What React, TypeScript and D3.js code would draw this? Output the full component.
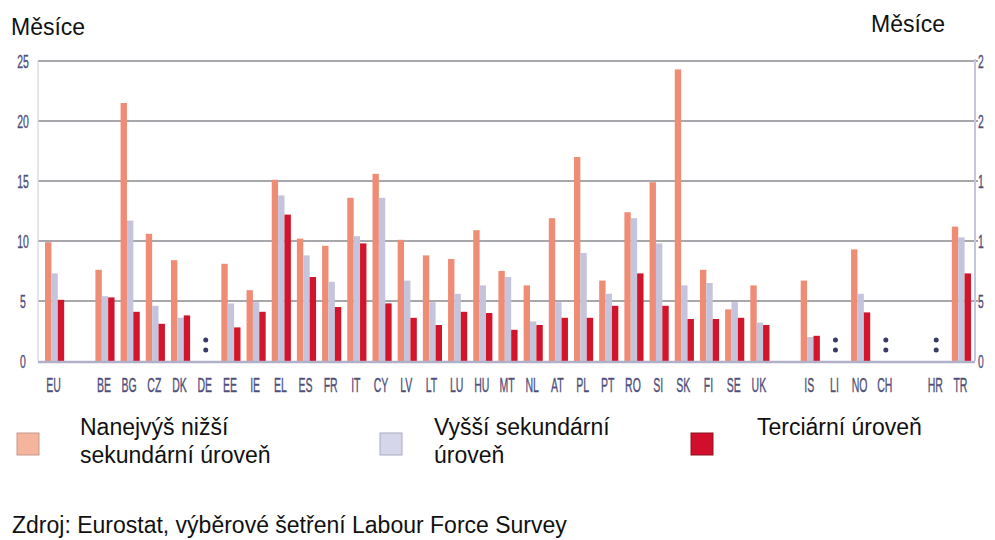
import * as d3 from "d3";
import { useEffect, useRef } from "react";

// slots along the x axis, "" = empty gap between country groups
const categories = ["EU", "", "BE", "BG", "CZ", "DK", "DE", "EE", "IE", "EL", "ES", "FR", "IT", "CY", "LV", "LT", "LU", "HU", "MT", "NL", "AT", "PL", "PT", "RO", "SI", "SK", "FI", "SE", "UK", "", "IS", "LI", "NO", "CH", "", "HR", "TR"];

const lowerSecondary = [9.9, null, 7.6, 21.5, 10.6, 8.4, null, 8.1, 5.9, 15.1, 10.2, 9.6, 13.6, 15.6, 10.1, 8.8, 8.5, 10.9, 7.5, 6.3, 11.9, 17.0, 6.7, 12.4, 14.9, 24.3, 7.6, 4.3, 6.3, null, 6.7, null, 9.3, null, null, null, 11.2];
const upperSecondary = [7.3, null, 5.4, 11.7, 4.6, 3.6, null, 4.8, 4.9, 13.8, 8.8, 6.6, 10.4, 13.6, 6.7, 4.9, 5.6, 6.3, 7.0, 3.3, 4.9, 9.0, 5.6, 11.9, 9.8, 6.3, 6.5, 4.9, 3.2, null, 2.0, null, 5.6, null, null, null, 10.3];
const tertiary = [5.1, null, 5.3, 4.1, 3.1, 3.8, null, 2.8, 4.1, 12.2, 7.0, 4.5, 9.8, 4.8, 3.6, 3.0, 4.1, 4.0, 2.6, 3.0, 3.6, 3.6, 4.6, 7.3, 4.6, 3.5, 3.5, 3.6, 3.0, null, 2.1, null, 4.05, null, null, null, 7.3];

const yTicks = [0, 5, 10, 15, 20, 25];

const seriesNames = [["Nanejvýš nižší", "sekundární úroveň"], ["Vyšší sekundární", "úroveň"], ["Terciární úroveň"]];
const barColors = ["#ef8c76", "#c4c4dc", "#d2152b"];
const legendColors = ["#f5b49c", "#d6d6ea", "#d10f2d"];
const legendStrokes = ["#c69a8e", "#a9a9c2", "#8c1424"];

const App = () => {
    const svgRef = useRef(null);

    useEffect(() => {
        document.body.style.margin = "0";
        const svg = d3.select(svgRef.current);
        const width = 995;
        const height = 540;
        svg.selectAll("*").remove();

        const left = 38, right = 975, top = 61, bottom = 361;
        const labelColor = "#50507a";
        const font = "Liberation Sans, Arial, sans-serif";

        const x = d3.scaleBand()
            .domain(categories.map((_, i) => String(i)))
            .range([42, 974])
            .paddingInner(0.24)
            .paddingOuter(0.12);

        const xs = d3.scaleBand()
            .domain(["0", "1", "2"])
            .range([0, x.bandwidth()]);

        const y = d3.scaleLinear().domain([0, 25]).range([bottom, top]);

        svg.append("rect").attr("width", width).attr("height", height).attr("fill", "#fff");

        // grid
        svg.append("g")
            .selectAll("line")
            .data(yTicks.filter(t => t > 0))
            .join("line")
            .attr("x1", left)
            .attr("x2", right + 3)
            .attr("y1", d => y(d))
            .attr("y2", d => y(d))
            .attr("stroke", "#8a8a90")
            .attr("stroke-width", 1.7);

        svg.append("line")
            .attr("x1", left).attr("x2", left)
            .attr("y1", top).attr("y2", bottom)
            .attr("stroke", "#d4d4e0").attr("stroke-width", 1.2);
        svg.append("line")
            .attr("x1", right).attr("x2", right)
            .attr("y1", top - 2).attr("y2", bottom)
            .attr("stroke", "#c6c6dc").attr("stroke-width", 2);

        // bars
        const series = [lowerSecondary, upperSecondary, tertiary];
        series.forEach((values, s) => {
            svg.append("g")
                .selectAll("rect")
                .data(values.map((v, i) => ({ v, i })).filter(d => d.v != null))
                .join("rect")
                .attr("x", d => x(String(d.i)) + xs(String(s)))
                .attr("width", xs.bandwidth())
                .attr("y", d => y(d.v))
                .attr("height", d => y(0) - y(d.v))
                .attr("fill", barColors[s]);
        });

        // baseline
        svg.append("line")
            .attr("x1", left).attr("x2", right)
            .attr("y1", bottom + 1).attr("y2", bottom + 1)
            .attr("stroke", "#b0b0c8").attr("stroke-width", 2.5);

        // missing data markers ":"
        const missing = categories.map((c, i) => ({ c, i })).filter(d => d.c !== "" && lowerSecondary[d.i] == null);
        const mg = svg.append("g").attr("fill", "#3a3a66");
        missing.forEach(d => {
            const cx = x(String(d.i)) + x.bandwidth() / 2;
            mg.append("circle").attr("cx", cx).attr("cy", 340).attr("r", 2.5);
            mg.append("circle").attr("cx", cx).attr("cy", 350).attr("r", 2.5);
        });

        // category labels (condensed)
        svg.append("g")
            .selectAll("text")
            .data(categories.map((c, i) => ({ c, i })).filter(d => d.c !== ""))
            .join("text")
            .attr("transform", d => `translate(${x(String(d.i)) + x.bandwidth() / 2 - 1},392) scale(0.5,1)`)
            .attr("text-anchor", "middle")
            .attr("font-family", font)
            .attr("font-size", 21)
            .attr("stroke", labelColor)
            .attr("stroke-width", 0.4)
            .attr("fill", labelColor)
            .text(d => d.c);

        // left axis labels
        svg.append("g")
            .selectAll("text")
            .data(yTicks)
            .join("text")
            .attr("transform", d => `translate(23,${y(d) + 7}) scale(0.55,1)`)
            .attr("text-anchor", "middle")
            .attr("font-family", font)
            .attr("font-size", 19)
            .attr("stroke", labelColor)
            .attr("stroke-width", 0.4)
            .attr("fill", labelColor)
            .text(d => d);

        // right axis labels, cut by the picture edge
        svg.append("defs").append("clipPath").attr("id", "right-clip")
            .append("rect").attr("x", 970).attr("y", 0).attr("width", 13.8).attr("height", 400);
        svg.append("g")
            .attr("clip-path", "url(#right-clip)")
            .selectAll("text")
            .data(yTicks)
            .join("text")
            .attr("transform", d => `translate(978,${y(d) + 7}) scale(0.55,1)`)
            .attr("font-family", font)
            .attr("font-size", 19)
            .attr("stroke", labelColor)
            .attr("stroke-width", 0.4)
            .attr("fill", labelColor)
            .text(d => d);

        svg.append("text").attr("x", 11).attr("y", 35).attr("font-family", font).attr("font-size", 23).attr("fill", "#111").text("Měsíce");
        svg.append("text").attr("x", 871).attr("y", 32).attr("font-family", font).attr("font-size", 23).attr("fill", "#111").text("Měsíce");

        // legend
        const legendX = [[17, 80], [380, 434], [691, 757]];
        seriesNames.forEach((lines, s) => {
            svg.append("rect")
                .attr("x", legendX[s][0]).attr("y", 433)
                .attr("width", 22).attr("height", 22)
                .attr("fill", legendColors[s])
                .attr("stroke", legendStrokes[s]).attr("stroke-width", 1);
            const t = svg.append("text")
                .attr("font-family", font).attr("font-size", 23).attr("fill", "#111");
            lines.forEach((line, li) => {
                t.append("tspan").attr("x", legendX[s][1]).attr("y", 435 + li * 28).text(line);
            });
        });

        svg.append("text").attr("x", 12).attr("y", 533).attr("font-family", font).attr("font-size", 23).attr("fill", "#111")
            .text("Zdroj: Eurostat, výběrové šetření Labour Force Survey");
    }, []);

    return <svg ref={svgRef} width={995} height={540} style={{ display: "block" }} />;
};

export default App;
